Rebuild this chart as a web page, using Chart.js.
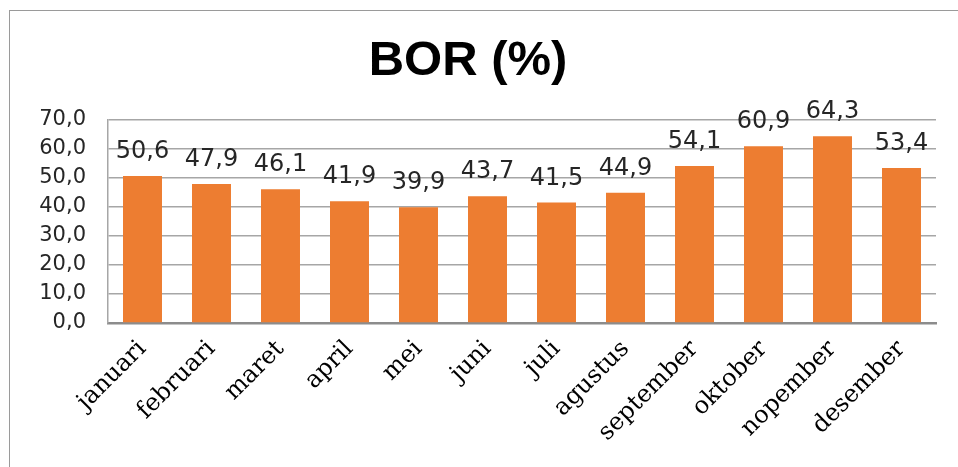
<!DOCTYPE html>
<html>
<head>
<meta charset="utf-8">
<script src="https://cdn.jsdelivr.net/npm/chart.js@4"></script>
<style>
  html, body { margin: 0; padding: 0; background: #fff; overflow: hidden; }
  #wrap { position: relative; width: 958px; height: 467px; overflow: hidden; }
  #frame { position: absolute; left: 9px; top: 10px; width: 980px; height: 480px;
           border: 1.5px solid #9a9a9a; pointer-events: none; box-sizing: border-box; }
  canvas { position: absolute; left: 0; top: 0; }
</style>
</head>
<body>
<div id="wrap">
  <canvas id="c" width="958" height="467"></canvas>
  <div id="frame"></div>
</div>
<script>
const categories = ['januari','februari','maret','april','mei','juni','juli','agustus','september','oktober','nopember','desember'];
const borValues = [50.6, 47.9, 46.1, 41.9, 39.9, 43.7, 41.5, 44.9, 54.1, 60.9, 64.3, 53.4];
const chartTitle = 'BOR (%)';
const yMin = 0, yMax = 70, yStep = 10;

const fmt = v => Number(v).toFixed(1).replace('.', ',');

const valueLabels = {
  id: 'valueLabels',
  afterDatasetsDraw(chart) {
    const ctx = chart.ctx;
    const meta = chart.getDatasetMeta(0);
    ctx.save();
    ctx.font = '24px "DejaVu Sans"';
    ctx.fillStyle = '#262626';
    ctx.textAlign = 'center';
    ctx.textBaseline = 'alphabetic';
    meta.data.forEach((bar, i) => {
      ctx.fillText(fmt(chart.data.datasets[0].data[i]), bar.x, bar.y - 18);
    });
    ctx.restore();
  }
};

new Chart(document.getElementById('c'), {
  type: 'bar',
  data: {
    labels: categories,
    datasets: [{
      data: borValues,
      backgroundColor: '#ED7D31',
      borderWidth: 0,
      categoryPercentage: 1,
      barPercentage: 0.565
    }]
  },
  options: {
    responsive: false,
    animation: false,
    devicePixelRatio: 1,
    layout: { padding: { left: 0, right: 22, top: 0, bottom: 0 } },
    plugins: {
      legend: { display: false },
      tooltip: { enabled: false },
      title: {
        display: true,
        text: chartTitle,
        color: '#000',
        font: { family: '"Liberation Sans"', size: 49, weight: 'bold', lineHeight: 1.2 },
        padding: { top: 32, bottom: 29 }
      }
    },
    scales: {
      x: {
        offset: true,
        grid: { display: false, drawTicks: false },
        border: { display: true, color: '#8c8c8c', width: 2.5 },
        ticks: {
          color: '#000',
          font: { family: '"DejaVu Serif"', size: 24 },
          maxRotation: 45,
          minRotation: 45,
          autoSkip: false,
          padding: 12
        },
        afterFit(scale) { scale.height = 144; }
      },
      y: {
        min: yMin,
        max: yMax,
        grid: { color: '#a6a6a6', lineWidth: 1.5, drawTicks: false },
        border: { display: true, color: '#a6a6a6', width: 1.5 },
        ticks: {
          stepSize: yStep,
          color: '#262626',
          font: { family: '"DejaVu Sans"', size: 21 },
          padding: 22,
          callback: v => fmt(v)
        },
        afterFit(scale) { scale.width = 108; }
      }
    }
  },
  plugins: [valueLabels]
});
</script>
</body>
</html>
